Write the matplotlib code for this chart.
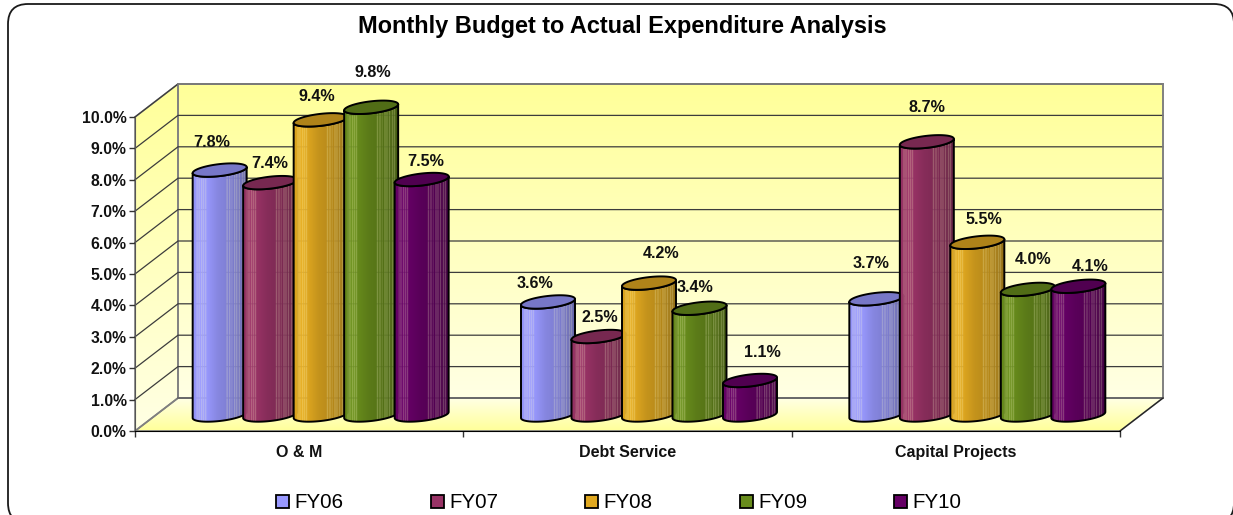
import numpy as np
import matplotlib
matplotlib.use('Agg')
import matplotlib.pyplot as plt
from matplotlib.colors import LinearSegmentedColormap, to_rgb
from matplotlib.patches import Polygon, Patch, FancyBboxPatch

plt.rcParams['font.family'] = ['Liberation Sans', 'DejaVu Sans']

# data
categories = ['O & M', 'Debt Service', 'Capital Projects']
series_names = ['FY06', 'FY07', 'FY08', 'FY09', 'FY10']
fy06 = [7.8, 3.6, 3.7]
fy07 = [7.4, 2.5, 8.7]
fy08 = [9.4, 4.2, 5.5]
fy09 = [9.8, 3.4, 4.0]
fy10 = [7.5, 1.1, 4.1]
all_series = [fy06, fy07, fy08, fy09, fy10]
colors = ['#9999FF', '#993366', '#E0A820', '#688C1C', '#660066']
y_ticks = np.arange(0, 11)

# label offsets in pixels from the top of each bar (dx, up)
label_offsets = [
    [(-8, 28), (-13, 18), (-5, 35)],
    [(0, 19), (1, 19), (0, 34)],
    [(-4, 23), (12, 30), (7, 23)],
    [(2, 35), (-5, 21), (5, 30)],
    [(4, 18), (12, 28), (12, 20)],
]

W, H = 1233, 515
fig = plt.figure(figsize=(W / 100, H / 100), dpi=100)
fig.patch.set_facecolor('white')

# frame runs off the right and bottom of the picture
fig.patches.append(FancyBboxPatch((28, 12), 1186, 479,
                                  boxstyle='round,pad=20,rounding_size=20',
                                  transform=None, facecolor='none',
                                  edgecolor='#1a1a1a', linewidth=1.3, figure=fig))

left, right, y0, y10 = 135, 1120, 431, 117
ax = fig.add_axes([left / W, (H - y0) / H, (right - left) / W, (y0 - y10) / H])
ax.set_facecolor('none')

px_x = (right - left) / 3
px_y = (y0 - y10) / 10
DX = 43 / px_x
DY = 33 / px_y

# walls and floor
wall_cmap = LinearSegmentedColormap.from_list('wall', ['#FFFF99', '#FFFFE4'])
grad = np.linspace(0, 1, 256)[:, None]


def filled(points, extent, cmap_values, z):
    poly = Polygon(points, closed=True, transform=ax.transData, facecolor='none',
                   edgecolor='#808080', linewidth=1.2, zorder=z + 0.1, clip_on=False)
    im = ax.imshow(cmap_values, extent=extent, aspect='auto', cmap=wall_cmap,
                   vmin=0, vmax=1, origin='upper', zorder=z)
    ax.add_patch(poly)
    im.set_clip_box(fig.bbox)
    im.set_clip_path(poly)


filled([(DX, DY), (3 + DX, DY), (3 + DX, 10 + DY), (DX, 10 + DY)],
       (DX, 3 + DX, DY, 10 + DY), grad, 1)
filled([(0, 0), (DX, DY), (DX, 10 + DY), (0, 10)],
       (0, DX, 0, 10 + DY), grad, 1)
filled([(0, 0), (3, 0), (3 + DX, DY), (DX, DY)],
       (0, 3 + DX, 0, DY), grad[::-1], 1)

# gridlines on back wall and side wall
for v in y_ticks[1:]:
    ax.plot([0, DX, 3 + DX], [v, v + DY, v + DY], color='#3c3c3c', lw=0.9,
            zorder=1.5, clip_on=False)
ax.plot([3 + DX, 3 + DX], [DY, 10 + DY], color='#808080', lw=1.2, zorder=1.6, clip_on=False)
ax.plot([DX, 3 + DX], [10 + DY, 10 + DY], color='#808080', lw=1.2, zorder=1.6, clip_on=False)
ax.plot([DX, 3 + DX], [DY, DY], color='#666666', lw=1.2, zorder=1.6, clip_on=False)
ax.plot([3, 3 + DX], [0, DY], color='#222222', lw=0.9, zorder=1.6, clip_on=False)

# cylinder shading across the width
u = np.linspace(0, 1, 108)
shade = np.interp(u, [0, 0.15, 0.45, 0.75, 1], [0.96, 1.04, 0.88, 0.8, 0.66])
stripes = [0.07, 0.11, 0.15, 0.19, 0.23, 0.62, 0.67, 0.71, 0.76, 0.8, 0.85, 0.9, 0.94]
is_stripe = np.zeros_like(u, dtype=bool)
for s in stripes:
    is_stripe[np.abs(u - s) < 0.009] = True

a = 27 / px_x
b = 6 / px_y
k = 3 / px_y
mid_x = 21.5 / px_x
mid_y = 16 / px_y
step = 50.5 / px_x
t_low = np.linspace(np.pi, 2 * np.pi, 40)
t_all = np.linspace(0, 2 * np.pi, 80)

for i, (vals, col) in enumerate(zip(all_series, colors)):
    base = np.array(to_rgb(col))
    rgb = np.clip(base[None, :] * shade[:, None], 0, 1)
    rgb[is_stripe] = rgb[is_stripe] * 0.78 + np.array([1, 1, 0.8]) * 0.22
    rgba = np.ones((1, u.size, 4))
    rgba[0, :, :3] = rgb
    rgba[0, is_stripe, 3] = 0.9
    for g, v in enumerate(vals):
        cx = g + 0.5 + (i - 2) * step + mid_x
        yb = mid_y
        yt = v + mid_y
        z = 3 + i
        low_x = cx + a * np.cos(t_low)
        low_off = k * np.cos(t_low) + b * np.sin(t_low)
        body = np.vstack([np.column_stack([low_x, yb + low_off]),
                          np.column_stack([low_x, yt + low_off])[::-1]])
        outline = Polygon(body, closed=True, transform=ax.transData, facecolor='none',
                          edgecolor='black', linewidth=1.4, zorder=z + 0.2,
                          joinstyle='round', clip_on=False)
        im = ax.imshow(rgba, extent=(cx - a, cx + a, yb - b - k, yt + b + k),
                       aspect='auto', zorder=z, interpolation='bilinear')
        ax.add_patch(outline)
        im.set_clip_box(fig.bbox)
        im.set_clip_path(outline)
        top = Polygon(np.column_stack([cx + a * np.cos(t_all),
                                       yt + k * np.cos(t_all) + b * np.sin(t_all)]),
                      closed=True, facecolor=base * 0.78, edgecolor='black',
                      linewidth=1.4, zorder=z + 0.3, clip_on=False)
        ax.add_patch(top)
        ax.annotate(f'{v:.1f}%', (cx, yt), xytext=label_offsets[i][g],
                    textcoords='offset pixels', ha='center', va='center',
                    fontsize=11.6, fontweight='bold', color='#111111',
                    zorder=40, annotation_clip=False)

ax.set_xlim(0, 3)
ax.set_ylim(0, 10)
for side in ['top', 'right']:
    ax.spines[side].set_visible(False)
ax.spines['left'].set_color('#555555')
ax.spines['bottom'].set_color('black')
ax.spines['left'].set_zorder(2)
ax.spines['bottom'].set_zorder(2)
ax.set_xticks([0, 1, 2, 3])
ax.set_xticklabels([])
ax.set_xticks([0.5, 1.5, 2.5], minor=True)
ax.set_xticklabels(categories, minor=True, fontsize=11.5, fontweight='bold', color='#111111')
ax.tick_params(axis='x', which='major', length=4, width=1, color='#333333')
ax.tick_params(axis='x', which='minor', length=0, pad=10)
ax.set_yticks(y_ticks)
ax.set_yticklabels([f'{v:.1f}%' for v in y_ticks], fontsize=11.3, fontweight='bold', color='#111111')
ax.tick_params(axis='y', length=4, width=1, color='#333333', pad=2)

fig.text(622 / W, (H - 26) / H, 'Monthly Budget to Actual Expenditure Analysis',
         ha='center', va='center', fontsize=16.9, fontweight='bold', color='black')

handles = [Patch(facecolor=c, edgecolor='black', linewidth=1.3, label=n)
           for c, n in zip(colors, series_names)]
fig.legend(handles=handles, loc='center', bbox_to_anchor=(619 / W, (H - 503) / H),
           ncol=5, frameon=False, fontsize=14.8, handlelength=0.63, handleheight=0.63,
           handletextpad=0.25, columnspacing=4.25, borderpad=0, borderaxespad=0)

fig.savefig('out.png', dpi=100)
